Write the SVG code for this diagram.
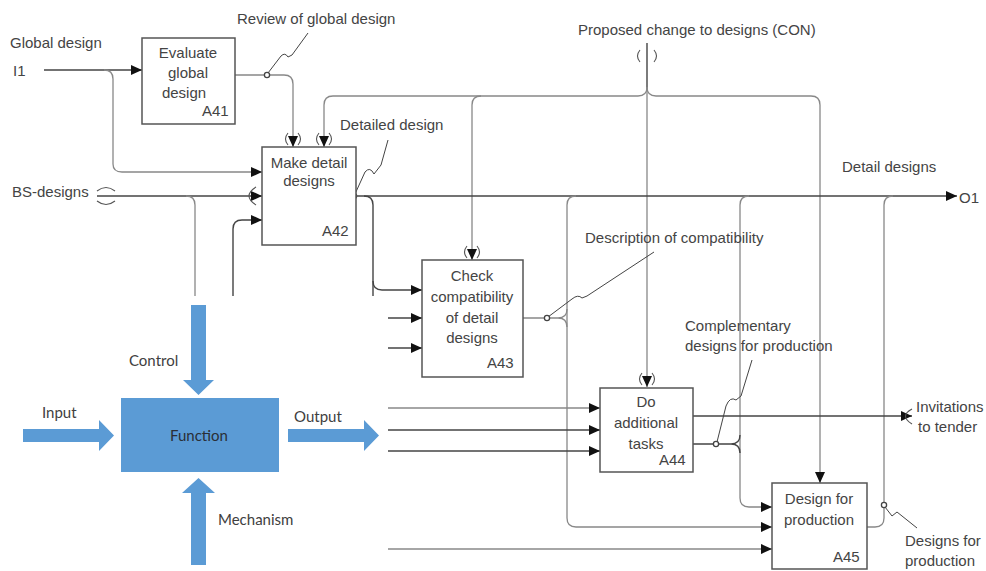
<svg xmlns="http://www.w3.org/2000/svg" width="986" height="571" viewBox="0 0 986 571">
  <style>
    .t { font-family: "Liberation Sans", Arial, sans-serif; font-size: 15px; fill: #444; }
    .tm { text-anchor: middle; }
    .box { fill: #fff; stroke: #555; stroke-width: 1.5; }
    .ln { fill: none; stroke: #444; stroke-width: 1.4; }
    .lg { fill: none; stroke: #888; stroke-width: 1.3; }
    .sq { fill: none; stroke: #444; stroke-width: 1; }
    .tn { fill: none; stroke: #555; stroke-width: 1.1; }
    .dot { fill: #fff; stroke: #444; stroke-width: 1.3; }
    .blue { fill: #5b9bd5; }
    .lt { font-family: Lato, "Open Sans", sans-serif; font-size: 15px; fill: #404040; }
  </style>
  <defs>
    <marker id="arr" markerUnits="userSpaceOnUse" markerWidth="11" markerHeight="10" refX="11" refY="5" orient="auto">
      <path d="M0,0 L11,5 L0,10 z" fill="#111"/>
    </marker>
  </defs>

  <rect width="986" height="571" fill="#fff"/>

  <!-- legend: Function with its four ICOM arrows -->
  <g id="legend">
    <rect class="blue" x="121" y="398" width="158" height="74"/>
    <text class="lt tm" x="199" y="441" style="fill:#2a2f36">Function</text>
    <polygon class="blue" points="191,305 206,305 206,380 214,380 198.5,395 183,380 191,380"/>
    <polygon class="blue" points="23,429 99,429 99,420 114,435.5 99,451 99,442 23,442"/>
    <polygon class="blue" points="288,429 364,429 364,420 379,435.5 364,451 364,442 288,442"/>
    <polygon class="blue" points="191,565 206,565 206,493 215,493 198.5,478 182,493 191,493"/>
    <text class="lt" x="129" y="366">Control</text>
    <text class="lt" x="42" y="418">Input</text>
    <text class="lt" x="294" y="422">Output</text>
    <text class="lt" x="218" y="525">Mechanism</text>
  </g>

  <!-- connectors -->
  <g id="connectors">
    <!-- I1 -->
    <path class="ln" d="M44 70 H142" marker-end="url(#arr)"/>
    <path class="lg" d="M104 70 Q113 70 113 79 V164 Q113 172 122 172 H262" marker-end="url(#arr)"/>
    <!-- review of global design -->
    <path class="lg" d="M235 75 H284 Q293 75 293 84 V147" marker-end="url(#arr)"/>
    <!-- proposed change (CON) -->
    <path class="ln" d="M647 43 V90"/>
    <path class="lg" d="M647 88 V387" marker-end="url(#arr)"/>
    <path class="lg" d="M647 87 Q647 96 638 96 H333 Q324 96 324 105 V147" marker-end="url(#arr)"/>
    <path class="lg" d="M481 96 Q472 96 472 105 V260" marker-end="url(#arr)"/>
    <path class="lg" d="M647 87 Q647 96 656 96 H811 Q820 96 820 105 V483" marker-end="url(#arr)"/>
    <!-- BS-designs -->
    <path class="ln" d="M97 196 H262" marker-end="url(#arr)"/>
    <path class="lg" d="M186 196 Q195 196 195 205 V296"/>
    <path class="ln" d="M233 296 V229 Q233 220 242 220 H262" marker-end="url(#arr)"/>
    <!-- detail designs (O1) and branches -->
    <path class="ln" d="M356 196 H957" marker-end="url(#arr)"/>
    <path class="ln" d="M364 196 Q373 196 373 205 V281 Q373 290 382 290 H422" marker-end="url(#arr)"/>
    <path class="ln" d="M373 281 V296"/>
    <path class="lg" d="M576 196 Q567 196 567 205 V518 Q567 527 576 527 H772" marker-end="url(#arr)"/>
    <path class="lg" d="M523 318 H558 Q567 318 567 309 M558 318 Q567 318 567 327"/>
    <path class="lg" d="M749 196 Q740 196 740 205 V498 Q740 507 749 507 H772" marker-end="url(#arr)"/>
    <path class="ln" d="M693 444 H731 Q740 444 740 435 M731 444 Q740 444 740 453"/>
    <path class="lg" d="M867 527 H875 Q884 527 884 518 V205 Q884 196 893 196"/>
    <!-- invitations to tender -->
    <path class="ln" d="M693 416 H912" marker-end="url(#arr)"/>
    <!-- open inputs -->
    <path class="ln" d="M388 318 H422" marker-end="url(#arr)"/>
    <path class="ln" d="M388 348 H422" marker-end="url(#arr)"/>
    <path class="lg" d="M388 408 H600" marker-end="url(#arr)"/>
    <path class="ln" d="M388 430 H600" marker-end="url(#arr)"/>
    <path class="ln" d="M388 451 H600" marker-end="url(#arr)"/>
    <path class="lg" d="M388 549 H772" marker-end="url(#arr)"/>

    <!-- tunnel marks -->
    <path class="tn" d="M288 133 Q283 139 288 145 M298 133 Q303 139 298 145"/>
    <path class="tn" d="M319 133 Q314 139 319 145 M329 133 Q334 139 329 145"/>
    <path class="tn" d="M467 246 Q462 252 467 258 M477 246 Q482 252 477 258"/>
    <path class="tn" d="M642 373 Q637 379 642 385 M652 373 Q657 379 652 385"/>
    <path class="tn" d="M640 50 Q635 56 640 62 M654 50 Q659 56 654 62"/>
    <path class="tn" d="M97 191 Q106 184 115 191 M97 201 Q106 208 115 201"/>
    <path class="tn" d="M256 187 Q242 196 256 205"/>
    <path class="tn" d="M912 409 Q899 416 912 424"/>

    <!-- label leaders -->
    <path class="sq" d="M268 73 L281 56 Q285 52 288 57 L292 55 L308 33"/>
    <path class="sq" d="M355 194 L365 172 Q370 166 374 174 L381 165 L388 140"/>
    <path class="sq" d="M548 317 L572 299 Q578 294 582 298 L587 296 L654 252"/>
    <path class="sq" d="M717 442 L726 406 Q730 396 736 400 L741 396 L752 360"/>
    <path class="sq" d="M885 507 L892 516 L897 512 L917 528"/>

    <!-- junction dots -->
    <circle class="dot" cx="267" cy="75" r="2.6"/>
    <circle class="dot" cx="354" cy="196" r="2.6"/>
    <circle class="dot" cx="547" cy="318" r="2.6"/>
    <circle class="dot" cx="716" cy="444" r="2.6"/>
    <circle class="dot" cx="884" cy="505" r="2.6"/>
  </g>

  <!-- activity boxes -->
  <g id="A41">
    <rect class="box" x="142" y="38" width="93" height="86"/>
    <text class="t tm" x="188" y="58">Evaluate</text>
    <text class="t tm" x="188" y="78">global</text>
    <text class="t tm" x="184" y="98">design</text>
    <text class="t" x="202" y="116">A41</text>
  </g>
  <g id="A42">
    <rect class="box" x="262" y="147" width="94" height="98"/>
    <text class="t tm" x="309" y="168">Make detail</text>
    <text class="t tm" x="309" y="186">designs</text>
    <text class="t" x="322" y="236">A42</text>
  </g>
  <g id="A43">
    <rect class="box" x="422" y="260" width="101" height="117"/>
    <text class="t tm" x="472" y="281">Check</text>
    <text class="t tm" x="472" y="302">compatibility</text>
    <text class="t tm" x="472" y="323">of detail</text>
    <text class="t tm" x="472" y="343">designs</text>
    <text class="t" x="487" y="368">A43</text>
  </g>
  <g id="A44">
    <rect class="box" x="600" y="388" width="93" height="84"/>
    <text class="t tm" x="646" y="407">Do</text>
    <text class="t tm" x="646" y="428">additional</text>
    <text class="t tm" x="646" y="449">tasks</text>
    <text class="t" x="659" y="465">A44</text>
  </g>
  <g id="A45">
    <rect class="box" x="772" y="483" width="95" height="86"/>
    <text class="t tm" x="819" y="504">Design for</text>
    <text class="t tm" x="819" y="525">production</text>
    <text class="t" x="833" y="562">A45</text>
  </g>

  <!-- arrow labels -->
  <g id="labels">
    <text class="t" x="10" y="48">Global design</text>
    <text class="t" x="13" y="76">I1</text>
    <text class="t" x="237" y="24">Review of global design</text>
    <text class="t" x="340" y="130">Detailed design</text>
    <text class="t" x="578" y="35">Proposed change to designs (CON)</text>
    <text class="t" x="842" y="172">Detail designs</text>
    <text class="t" x="959" y="203">O1</text>
    <text class="t" x="12" y="197">BS-designs</text>
    <text class="t" x="585" y="243">Description of compatibility</text>
    <text class="t" x="685" y="331">Complementary</text>
    <text class="t" x="685" y="351">designs for production</text>
    <text class="t" x="916" y="412">Invitations</text>
    <text class="t" x="918" y="432">to tender</text>
    <text class="t" x="905" y="546">Designs for</text>
    <text class="t" x="905" y="566">production</text>
  </g>
</svg>
